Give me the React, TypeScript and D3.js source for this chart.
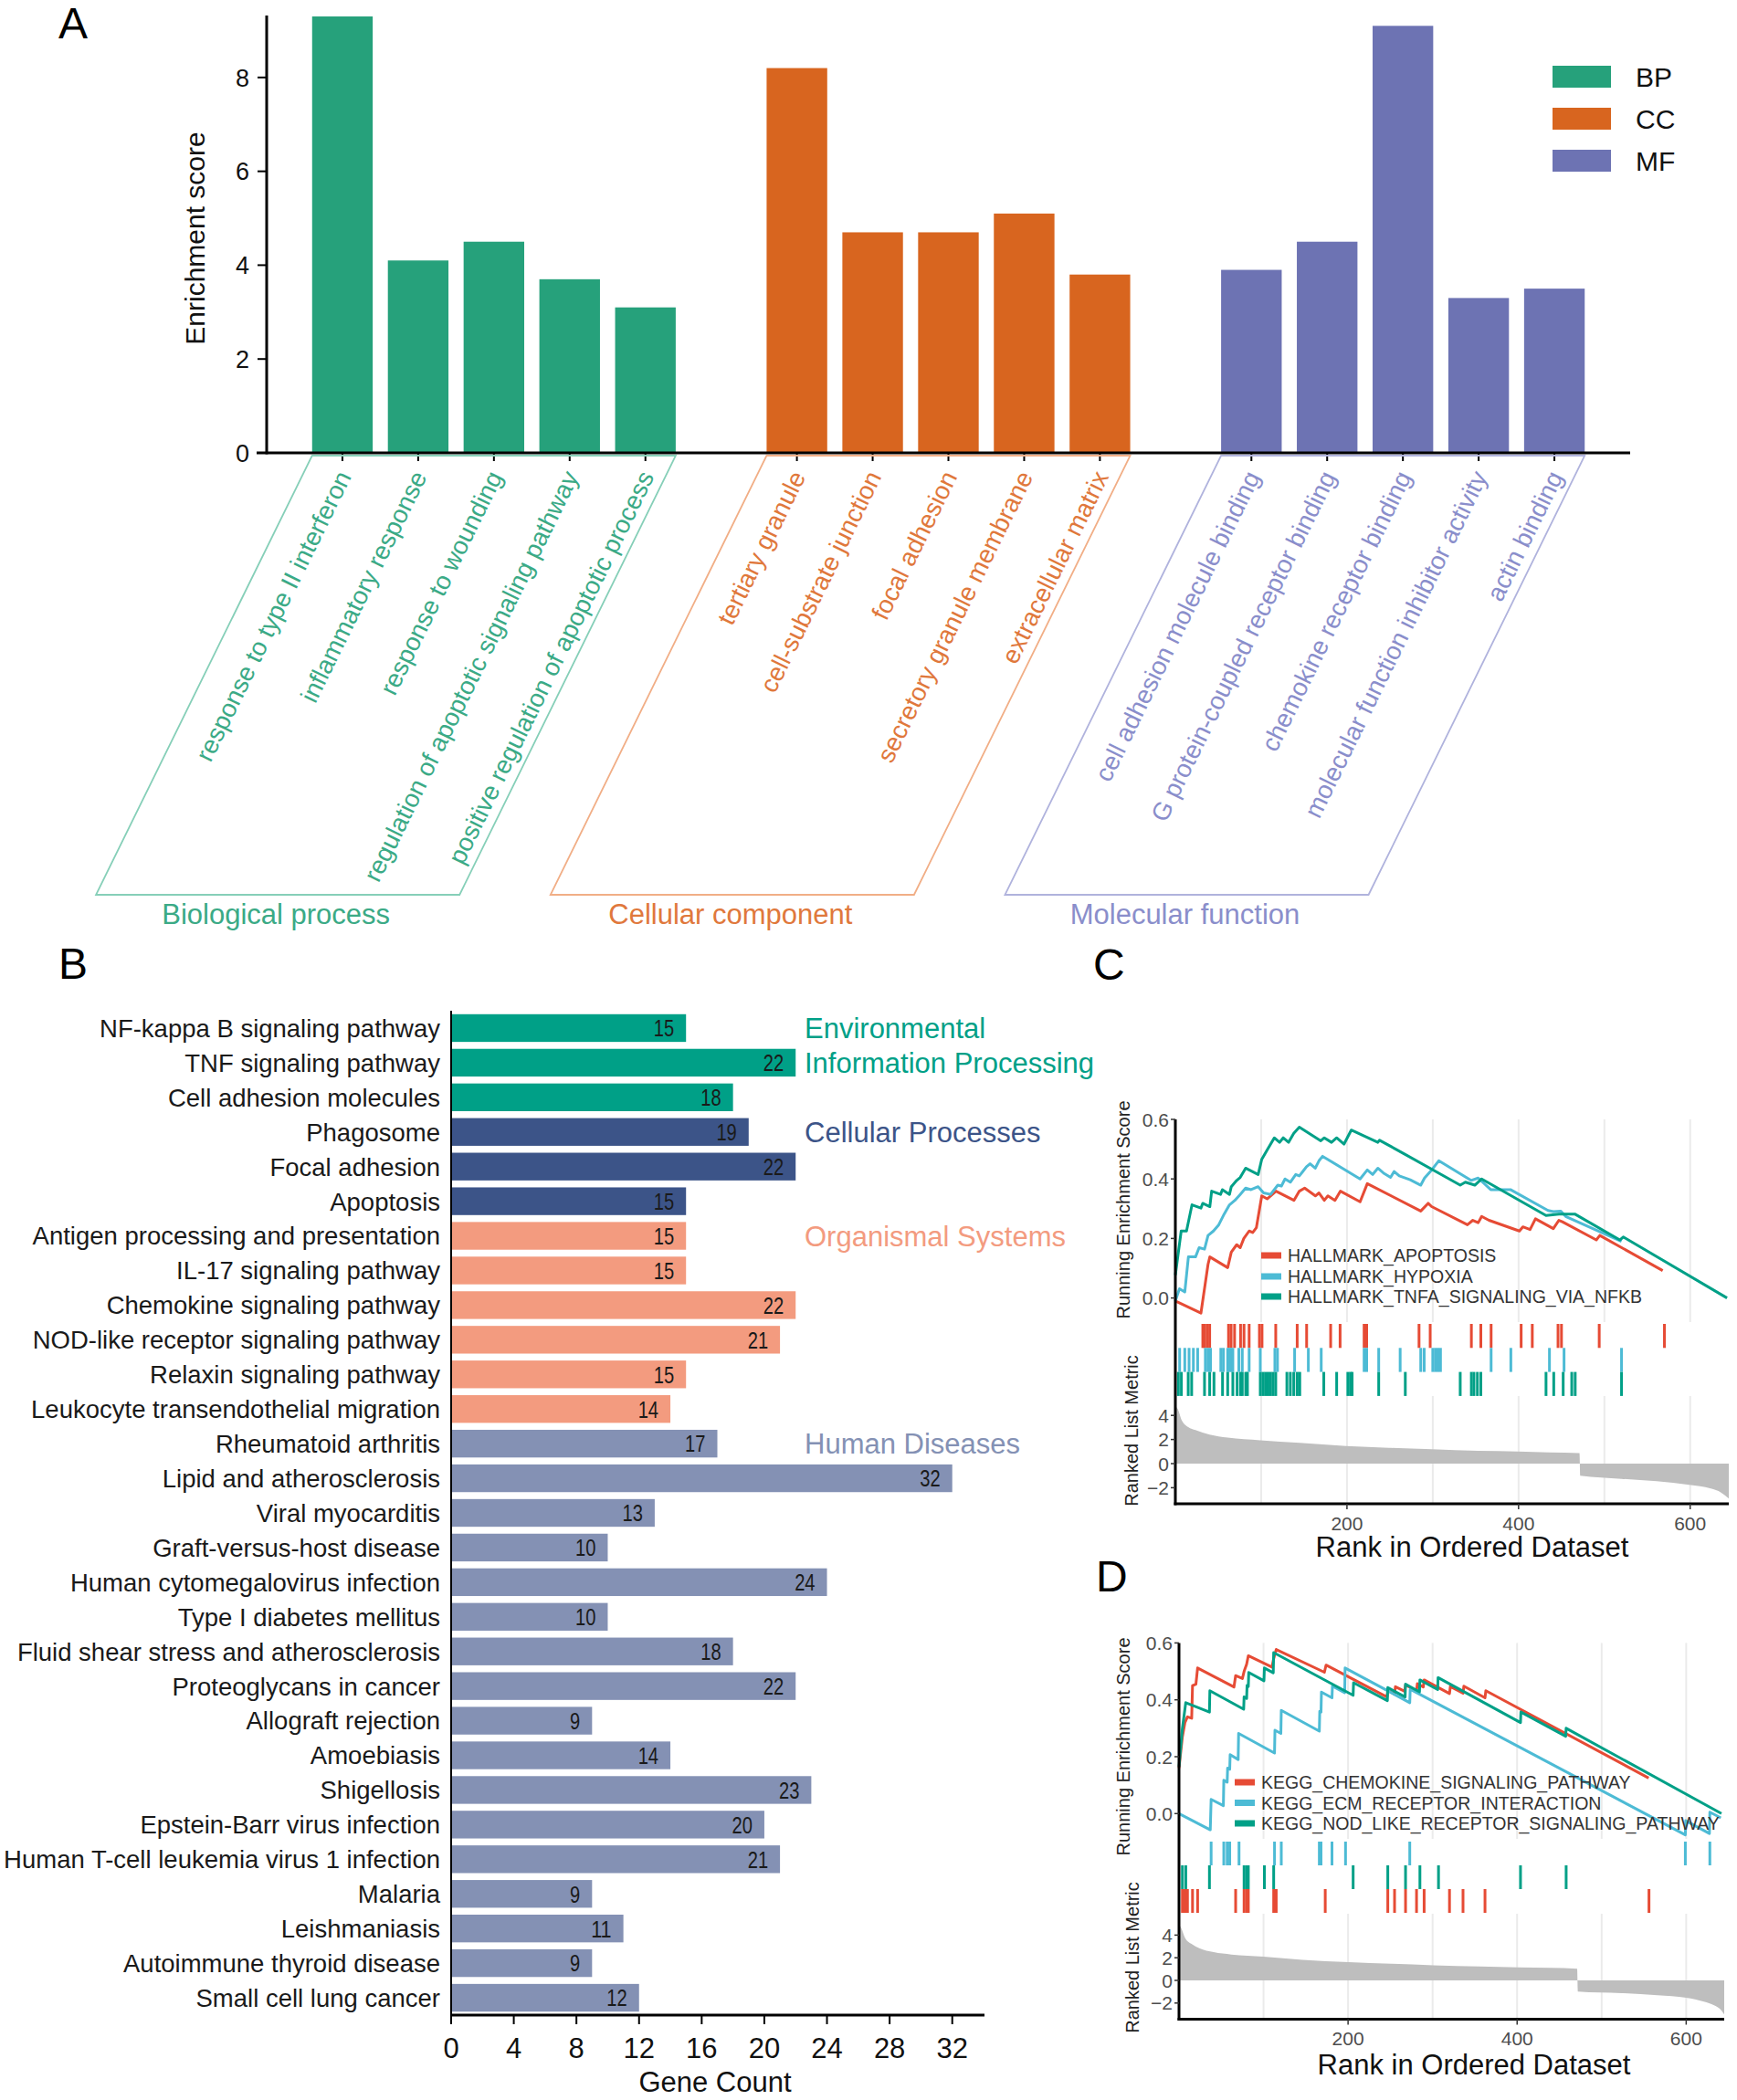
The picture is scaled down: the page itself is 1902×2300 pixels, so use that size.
import React from "react";
import * as d3 from "d3";

const FONT = '"Liberation Sans", Arial, Helvetica, sans-serif';

// ---------------- Panel A data ----------------
const goTerms = [
  "response to type II interferon",
  "inflammatory response",
  "response to wounding",
  "regulation of apoptotic signaling pathway",
  "positive regulation of apoptotic process",
  "tertiary granule",
  "cell-substrate junction",
  "focal adhesion",
  "secretory granule membrane",
  "extracellular matrix",
  "cell adhesion molecule binding",
  "G protein-coupled receptor binding",
  "chemokine receptor binding",
  "molecular function inhibitor activity",
  "actin binding",
];
const goOntology = ["BP", "BP", "BP", "BP", "BP", "CC", "CC", "CC", "CC", "CC", "MF", "MF", "MF", "MF", "MF"];
const goScores = [9.3, 4.1, 4.5, 3.7, 3.1, 8.2, 4.7, 4.7, 5.1, 3.8, 3.9, 4.5, 9.1, 3.3, 3.5];
const ontologyKeys = ["BP", "CC", "MF"];
const ontologyTitles = ["Biological process", "Cellular component", "Molecular function"];
const ontologyColors = ["#26A17B", "#D8651F", "#6D73B3"];
const ontologyTextColors = ["#3BAA86", "#E0783C", "#8A8ECB"];
const ontologyFrameColors = ["#86CFB8", "#F1AE86", "#B0B3DD"];
const scoreTicks = [0, 2, 4, 6, 8];

// ---------------- Panel B data ----------------
const keggPathways = [
  "NF-kappa B signaling pathway",
  "TNF signaling pathway",
  "Cell adhesion molecules",
  "Phagosome",
  "Focal adhesion",
  "Apoptosis",
  "Antigen processing and presentation",
  "IL-17 signaling pathway",
  "Chemokine signaling pathway",
  "NOD-like receptor signaling pathway",
  "Relaxin signaling pathway",
  "Leukocyte transendothelial migration",
  "Rheumatoid arthritis",
  "Lipid and atherosclerosis",
  "Viral myocarditis",
  "Graft-versus-host disease",
  "Human cytomegalovirus infection",
  "Type I diabetes mellitus",
  "Fluid shear stress and atherosclerosis",
  "Proteoglycans in cancer",
  "Allograft rejection",
  "Amoebiasis",
  "Shigellosis",
  "Epstein-Barr virus infection",
  "Human T-cell leukemia virus 1 infection",
  "Malaria",
  "Leishmaniasis",
  "Autoimmune thyroid disease",
  "Small cell lung cancer",
];
const keggCounts = [15, 22, 18, 19, 22, 15, 15, 15, 22, 21, 15, 14, 17, 32, 13, 10, 24, 10, 18, 22, 9, 14, 23, 20, 21, 9, 11, 9, 12];
const keggClass = [0, 0, 0, 1, 1, 1, 2, 2, 2, 2, 2, 2, 3, 3, 3, 3, 3, 3, 3, 3, 3, 3, 3, 3, 3, 3, 3, 3, 3];
const keggClassLabelLines = [["Environmental", "Information Processing"], ["Cellular Processes"], ["Organismal Systems"], ["Human Diseases"]];
const keggClassColors = ["#00A087", "#3C5488", "#F39B7F", "#8491B4"];
const countTicks = [0, 4, 8, 12, 16, 20, 24, 28, 32];

// ---------------- Panel C / D data ----------------
const gseaColors = ["#E64B35", "#4DBBD5", "#00A087"];
const rankTicks = [200, 400, 600];
const rankGrid = [100, 200, 300, 400, 500, 600];
const esTicks = [0, 0.2, 0.4, 0.6];
const metricTicks = [-2, 0, 2, 4];

const cSetNames = ["HALLMARK_APOPTOSIS", "HALLMARK_HYPOXIA", "HALLMARK_TNFA_SIGNALING_VIA_NFKB"];
const cApoptosisES = [[0, -0.01], [29.8, -0.051], [38.1, 0.113], [40.2, 0.138], [61, 0.102], [65.2, 0.154], [71.5, 0.179], [75.6, 0.169], [79.8, 0.2], [86, 0.225], [90.2, 0.22], [94.4, 0.236], [100.7, 0.343], [107, 0.333], [117.3, 0.359], [138.2, 0.328], [144.5, 0.359], [150.7, 0.369], [163.2, 0.343], [167.4, 0.353], [173.6, 0.328], [177.8, 0.343], [186, 0.328], [192.4, 0.359], [215.3, 0.323], [223.7, 0.384], [286, 0.292], [294.6, 0.318], [298.7, 0.307], [340.4, 0.246], [346.7, 0.261], [353, 0.253], [357, 0.274], [365.5, 0.261], [401, 0.225], [405, 0.239], [413.4, 0.23], [419.7, 0.266], [440.5, 0.233], [447, 0.261], [451, 0.256], [490.6, 0.195], [494.7, 0.21], [568, 0.092]];
const cHypoxiaES = [[0, -0.01], [4.8, 0.031], [11, 0.02], [15.2, 0.138], [23.5, 0.138], [27.7, 0.169], [34, 0.164], [38.1, 0.21], [44.4, 0.225], [50.6, 0.246], [56.9, 0.282], [63.1, 0.313], [69.4, 0.328], [75.6, 0.348], [81.9, 0.369], [88.2, 0.364], [96.5, 0.374], [102.8, 0.353], [111, 0.348], [119.4, 0.379], [123.6, 0.376], [127.8, 0.4], [134, 0.389], [140.3, 0.415], [144.5, 0.41], [148.6, 0.425], [152.8, 0.441], [157, 0.451], [163, 0.436], [167.4, 0.461], [171.6, 0.476], [215.3, 0.4], [223.7, 0.43], [230, 0.415], [236, 0.436], [242.5, 0.42], [250.8, 0.405], [255, 0.425], [261, 0.41], [273.7, 0.397], [286, 0.379], [290.4, 0.403], [298.7, 0.43], [307, 0.461], [344.6, 0.395], [353, 0.403], [367.5, 0.364], [390.5, 0.364], [434.3, 0.294], [440.5, 0.29], [449, 0.292], [455, 0.274], [520, 0.19]];
const cTnfaES = [[0, 0.077], [6.8, 0.225], [13, 0.225], [19.4, 0.313], [29.8, 0.302], [31.9, 0.318], [40.2, 0.307], [42.3, 0.359], [52.7, 0.348], [54.8, 0.364], [63.1, 0.348], [65.2, 0.374], [71.5, 0.395], [75.6, 0.405], [81.9, 0.436], [96.5, 0.415], [100.7, 0.466], [107, 0.497], [115.3, 0.538], [121.5, 0.523], [125.7, 0.538], [132, 0.523], [138, 0.553], [144.5, 0.574], [169.5, 0.528], [173.6, 0.538], [182, 0.523], [188, 0.538], [196.6, 0.517], [205, 0.564], [236, 0.523], [238, 0.53], [265, 0.487], [332, 0.379], [338, 0.389], [349, 0.379], [357, 0.4], [432, 0.277], [447, 0.282], [465.5, 0.282], [518, 0.195], [522, 0.205], [643, 0.0]];
const cApoptosisHits = [32, 34, 37, 40, 62, 65, 69, 76, 80, 86, 98, 101, 117, 142, 153, 181, 192, 220, 223, 284, 297, 345, 356, 368, 403, 416, 446, 450, 494, 570];
const cHypoxiaHits = [5, 11, 16, 21, 26, 35, 38, 41, 53, 56, 61, 63, 65, 67, 74, 78, 86, 99, 116, 119, 139, 155, 170, 220, 223, 237, 262, 286, 290, 300, 303, 306, 309, 368, 391, 436, 453, 520];
const cTnfaHits = [3.5, 7, 15, 19, 34, 40, 45, 55, 61, 67, 72, 76, 78, 82, 84, 99, 102, 105, 108, 111, 114, 117, 130, 134, 138, 142, 145, 173, 188, 201, 204, 206, 237, 268, 332, 345, 348, 352, 356, 432, 441, 452, 462, 466, 520];
const cMetric = [[0, 4.8], [3, 4.5], [7, 3.66], [15, 3.03], [23.5, 2.78], [40, 2.4], [61, 2.15], [99, 1.94], [145, 1.72], [199, 1.46], [249, 1.31], [299, 1.19], [353, 1.06], [399, 1.01], [436, 0.93], [471, 0.88], [472, -1.01], [520, -1.26], [561, -1.46], [599, -1.77], [624, -2.07], [636, -2.4], [645, -2.9]];

const dSetNames = ["KEGG_CHEMOKINE_SIGNALING_PATHWAY", "KEGG_ECM_RECEPTOR_INTERACTION", "KEGG_NOD_LIKE_RECEPTOR_SIGNALING_PATHWAY"];
const dChemokineES = [[0, 0.16], [4, 0.27], [7, 0.32], [10, 0.34], [15, 0.335], [16, 0.45], [20, 0.455], [22, 0.512], [65, 0.445], [67, 0.485], [75, 0.475], [77, 0.5], [80, 0.525], [82, 0.555], [110, 0.515], [112, 0.545], [115, 0.577], [172, 0.497], [174, 0.522], [246, 0.41], [247, 0.433], [255, 0.42], [256, 0.446], [267, 0.43], [268, 0.452], [281, 0.432], [282, 0.457], [289, 0.445], [290, 0.47], [320, 0.422], [321, 0.447], [336, 0.423], [337, 0.448], [362, 0.407], [363, 0.432], [555.6, 0.125]];
const dEcmES = [[0, 0.0], [37, -0.057], [38, 0.05], [52.5, 0.028], [53, 0.117], [57, 0.11], [57.5, 0.16], [60, 0.156], [60.5, 0.207], [70, 0.19], [70.5, 0.282], [113, 0.213], [113.5, 0.293], [120.5, 0.282], [121, 0.363], [166, 0.29], [166.5, 0.36], [168, 0.357], [168.5, 0.427], [181, 0.407], [181.5, 0.448], [196, 0.425], [196.5, 0.512], [273, 0.39], [273.5, 0.437], [599, -0.075], [599.5, -0.025], [627.5, -0.07], [628, 0.005], [641, -0.015]];
const dNodES = [[0, 0.165], [4, 0.3], [8, 0.39], [36, 0.357], [36.5, 0.432], [76.5, 0.367], [77, 0.41], [80, 0.405], [80.5, 0.45], [82, 0.447], [82.5, 0.496], [100.5, 0.467], [101, 0.512], [111.5, 0.495], [112, 0.566], [206, 0.416], [206.5, 0.46], [246.5, 0.397], [247, 0.443], [267.5, 0.41], [268, 0.455], [284.5, 0.428], [285, 0.47], [306, 0.436], [306.5, 0.478], [404, 0.32], [404.5, 0.357], [457.5, 0.272], [458, 0.3], [641.7, 0.0]];
const dChemokineHits = [4, 7, 10, 16, 22, 67, 77, 80, 82, 112, 115, 173, 247, 255, 268, 281, 290, 320, 336, 362, 556];
const dEcmHits = [38, 53, 57, 60, 71, 113, 121, 166, 168, 181, 197, 273, 599, 628];
const dNodHits = [4, 8, 36, 77, 80, 82, 101, 112, 206, 247, 268, 285, 307, 404, 458];
const dMetric = [[0, 4.8], [1.2, 4.77], [7.5, 3.7], [16, 3.16], [24, 2.84], [41, 2.49], [62, 2.28], [100, 2.09], [146, 1.82], [201, 1.61], [251, 1.47], [301, 1.34], [356, 1.23], [402, 1.15], [440, 1.1], [471, 1.02], [472, -0.99], [524, -1.13], [566, -1.31], [600, -1.53], [621, -1.88], [633, -2.2], [642, -2.68], [645, -3.0]];

// ---------------- Panel A ----------------
function PanelA() {
  const slots: string[] = [];
  ontologyKeys.forEach((k, gi) => {
    if (gi > 0) slots.push(`__gap${gi}`);
    goTerms.forEach((t, i) => {
      if (goOntology[i] === k) slots.push(t);
    });
  });
  const x = d3.scaleBand<string>().domain(slots).range([292, 1785]).paddingInner(0.2).paddingOuter(0.6);
  const y = d3.scaleLinear().domain([0, 9.32]).range([496, 17]);
  const bw = x.bandwidth();
  const ANGLE = 63.8;
  const frameTop = 499;
  const frameBottom = 980;
  const shift = (frameBottom - frameTop) / Math.tan((ANGLE * Math.PI) / 180);
  const gIdx = (k: string) => ontologyKeys.indexOf(k);

  return (
    <g>
      <text x={64} y={42} fontSize={48}>A</text>
      {goTerms.map((t, i) => (
        <rect key={t} x={x(t)} y={y(goScores[i])} width={bw} height={y(0) - y(goScores[i])} fill={ontologyColors[gIdx(goOntology[i])]} />
      ))}
      <line x1={292} x2={292} y1={y(9.32)} y2={y(0) + 1.5} stroke="#000" strokeWidth={3} />
      <line x1={281} x2={1785} y1={y(0)} y2={y(0)} stroke="#000" strokeWidth={3} />
      {scoreTicks.map((t) => (
        <g key={t}>
          <line x1={282} x2={292} y1={y(t)} y2={y(t)} stroke="#000" strokeWidth={2} />
          <text x={273} y={y(t)} dy="0.36em" textAnchor="end" fontSize={27} fill="#111">{t}</text>
        </g>
      ))}
      {goTerms.map((t) => (
        <line key={t} x1={(x(t) as number) + bw / 2} x2={(x(t) as number) + bw / 2} y1={y(0)} y2={y(0) + 9} stroke="#000" strokeWidth={2} />
      ))}
      <text transform={`translate(224,261) rotate(-90)`} textAnchor="middle" fontSize={30} fill="#111">Enrichment score</text>
      {goTerms.map((t, i) => (
        <text
          key={t}
          transform={`translate(${(x(t) as number) + bw / 2 - 12},511) rotate(${-ANGLE})`}
          textAnchor="end"
          dy="0.9em"
          fontSize={27.5}
          fill={ontologyTextColors[gIdx(goOntology[i])]}
        >
          {t}
        </text>
      ))}
      {ontologyKeys.map((k, gi) => {
        const terms = goTerms.filter((_, i) => goOntology[i] === k);
        const x0 = x(terms[0]) as number;
        const x1 = (x(terms[terms.length - 1]) as number) + bw;
        const pts = [
          [x0, frameTop],
          [x1, frameTop],
          [x1 - shift, frameBottom],
          [x0 - shift, frameBottom],
        ];
        return (
          <g key={k}>
            <polygon points={pts.map((p) => p.join(",")).join(" ")} fill="none" stroke={ontologyFrameColors[gi]} strokeWidth={1.8} />
            <text x={(x0 + x1) / 2 - shift - 2} y={1012} textAnchor="middle" fontSize={31} fill={ontologyTextColors[gi]}>
              {ontologyTitles[gi]}
            </text>
          </g>
        );
      })}
      {ontologyKeys.map((k, gi) => (
        <g key={k}>
          <rect x={1700} y={72 + gi * 46} width={64} height={24} fill={ontologyColors[gi]} />
          <text x={1791} y={84 + gi * 46} dy="0.36em" fontSize={30} fill="#111">{k}</text>
        </g>
      ))}
    </g>
  );
}

// ---------------- Panel B ----------------
function PanelB() {
  const y = d3.scaleBand<string>().domain(keggPathways).range([1107, 2207]).paddingInner(0.2).paddingOuter(0.1);
  const x = d3.scaleLinear().domain([0, 34]).range([494, 1077]);
  const bh = y.bandwidth();
  return (
    <g>
      <text x={64} y={1072} fontSize={48}>B</text>
      {keggPathways.map((p, i) => {
        const cy = (y(p) as number) + bh / 2;
        const v = keggCounts[i];
        return (
          <g key={p}>
            <rect x={x(0)} y={y(p)} width={x(v) - x(0)} height={bh} fill={keggClassColors[keggClass[i]]} />
            <text x={482} y={cy} dy="0.36em" textAnchor="end" fontSize={27.5} fill="#1a1a1a">{p}</text>
            <text
              x={x(v) - 13}
              y={cy}
              dy="0.36em"
              textAnchor="end"
              fontSize={26}
              fill="#1a1a1a"
              textLength={String(v).length * 11.2}
              lengthAdjust="spacingAndGlyphs"
            >
              {v}
            </text>
          </g>
        );
      })}
      <line x1={494} x2={494} y1={1107} y2={2208} stroke="#000" strokeWidth={2} />
      <line x1={493} x2={1078} y1={2207} y2={2207} stroke="#000" strokeWidth={3} />
      {countTicks.map((t) => (
        <g key={t}>
          <line x1={x(t)} x2={x(t)} y1={2207} y2={2217} stroke="#000" strokeWidth={2} />
          <text x={x(t)} y={2254} textAnchor="middle" fontSize={31} fill="#111">{t}</text>
        </g>
      ))}
      <text x={783} y={2291} textAnchor="middle" fontSize={31} fill="#111">Gene Count</text>
      {keggClassLabelLines.map((lines, ci) => {
        const first = keggPathways[keggClass.indexOf(ci)];
        const cy0 = (y(first) as number) + bh / 2;
        return lines.map((ln, li) => (
          <text key={ln} x={881} y={cy0 + li * y.step()} dy="0.36em" fontSize={31} fill={keggClassColors[ci]}>
            {ln}
          </text>
        ));
      })}
    </g>
  );
}

// ---------------- GSEA panels ----------------
type Cfg = {
  label: string; labelX: number; labelY: number;
  x0: number; x1: number; esTop: number; es0: number; esBottom: number;
  rugTop: number; rugH: number; rankTop: number; rank0: number; rankUnit: number; bottom: number;
  legendX: number; legendY: number[]; esTitleX: number; esTitleY: number; rankTitleX: number; rankTitleY: number;
  xTitleX: number; xTitleY: number; tickLabelY: number;
};

function GseaPanel({ cfg, names, curves, hits, metric, rugOrder }: { cfg: Cfg; names: string[]; curves: number[][][]; hits: number[][]; metric: number[][]; rugOrder: number[] }) {
  const x = d3.scaleLinear().domain([0, 645]).range([cfg.x0, cfg.x1]);
  const yES = d3.scaleLinear().domain([0, 0.6]).range([cfg.es0, cfg.esTop]);
  const yM = d3.scaleLinear().domain([0, 4]).range([cfg.rank0, cfg.rank0 - 4 * cfg.rankUnit]);
  const line = d3.line<number[]>().x((d) => x(d[0])).y((d) => yES(d[1]));
  const area = d3.area<number[]>().x((d) => x(d[0])).y0(yM(0)).y1((d) => yM(d[1])).curve(d3.curveMonotoneX);
  return (
    <g>
      <text x={cfg.labelX} y={cfg.labelY} fontSize={48}>{cfg.label}</text>
      {rankGrid.map((r) => (
        <g key={r}>
          <line x1={x(r)} x2={x(r)} y1={cfg.esTop} y2={cfg.esBottom} stroke="#EBEBEB" strokeWidth={2} />
          <line x1={x(r)} x2={x(r)} y1={cfg.rankTop} y2={cfg.bottom} stroke="#EBEBEB" strokeWidth={2} />
        </g>
      ))}
      <path d={area(metric) || ""} fill="#BEBEBE" />
      {rugOrder.map((si, row) => (
        <g key={si}>
          {hits[si].map((h, k) => (
            <line key={k} x1={x(h)} x2={x(h)} y1={cfg.rugTop + row * cfg.rugH} y2={cfg.rugTop + (row + 1) * cfg.rugH} stroke={gseaColors[si]} strokeWidth={3} />
          ))}
        </g>
      ))}
      {curves.map((c, si) => (
        <path key={si} d={line(c) || ""} fill="none" stroke={gseaColors[si]} strokeWidth={3} strokeLinejoin="round" />
      ))}
      <line x1={cfg.x0} x2={cfg.x0} y1={cfg.esTop} y2={cfg.bottom + 1.5} stroke="#000" strokeWidth={3} />
      <line x1={cfg.x0 - 1.5} x2={cfg.x1} y1={cfg.bottom} y2={cfg.bottom} stroke="#000" strokeWidth={3} />
      {esTicks.map((t) => (
        <g key={t}>
          <line x1={cfg.x0 - 5} x2={cfg.x0} y1={yES(t)} y2={yES(t)} stroke="#333" strokeWidth={1.5} />
          <text x={cfg.x0 - 7} y={yES(t)} dy="0.36em" textAnchor="end" fontSize={21} fill="#4D4D4D">{t.toFixed(1)}</text>
        </g>
      ))}
      {metricTicks.map((t) => (
        <g key={t}>
          <line x1={cfg.x0 - 5} x2={cfg.x0} y1={yM(t)} y2={yM(t)} stroke="#333" strokeWidth={1.5} />
          <text x={cfg.x0 - 7} y={yM(t)} dy="0.36em" textAnchor="end" fontSize={21} fill="#4D4D4D">{t < 0 ? `\u2212${-t}` : t}</text>
        </g>
      ))}
      {rankTicks.map((t) => (
        <g key={t}>
          <line x1={x(t)} x2={x(t)} y1={cfg.bottom} y2={cfg.bottom + 6} stroke="#333" strokeWidth={1.5} />
          <text x={x(t)} y={cfg.tickLabelY} dy="0.36em" textAnchor="middle" fontSize={21} fill="#4D4D4D">{t}</text>
        </g>
      ))}
      <text transform={`translate(${cfg.esTitleX},${cfg.esTitleY}) rotate(-90)`} textAnchor="middle" fontSize={20} fill="#222">Running Enrichment Score</text>
      <text transform={`translate(${cfg.rankTitleX},${cfg.rankTitleY}) rotate(-90)`} textAnchor="middle" fontSize={20} fill="#222">Ranked List Metric</text>
      <text x={cfg.xTitleX} y={cfg.xTitleY} textAnchor="middle" fontSize={31} fill="#111">Rank in Ordered Dataset</text>
      {names.map((n, si) => (
        <g key={n}>
          <rect x={cfg.legendX} y={cfg.legendY[si] - 3.5} width={22} height={7} fill={gseaColors[si]} />
          <text x={cfg.legendX + 29} y={cfg.legendY[si]} dy="0.36em" fontSize={19.5} fill="#333">{n}</text>
        </g>
      ))}
    </g>
  );
}

const cfgC: Cfg = {
  label: "C", labelX: 1197, labelY: 1073,
  x0: 1287, x1: 1893, esTop: 1226, es0: 1421.6, esBottom: 1448,
  rugTop: 1450, rugH: 26.3, rankTop: 1529, rank0: 1603, rankUnit: 13.2, bottom: 1647,
  legendX: 1381, legendY: [1375, 1398, 1420], esTitleX: 1237, esTitleY: 1325, rankTitleX: 1246, rankTitleY: 1567,
  xTitleX: 1612, xTitleY: 1705, tickLabelY: 1668,
};
const cfgD: Cfg = {
  label: "D", labelX: 1200, labelY: 1743,
  x0: 1291, x1: 1888, esTop: 1799.4, es0: 1986.3, esBottom: 2014,
  rugTop: 2017, rugH: 26, rankTop: 2096, rank0: 2169, rankUnit: 12.4, bottom: 2211.5,
  legendX: 1352, legendY: [1952, 1974.5, 1997], esTitleX: 1237, esTitleY: 1913, rankTitleX: 1247, rankTitleY: 2144,
  xTitleX: 1614, xTitleY: 2272, tickLabelY: 2232,
};

export default function App() {
  return (
    <svg
      width={1902}
      height={2300}
      viewBox="0 0 1902 2300"
      style={{ position: "absolute", left: 0, top: 0, display: "block", background: "#fff" }}
      fontFamily={FONT}
    >
      <rect x={0} y={0} width={1902} height={2300} fill="#fff" />
      <PanelA />
      <PanelB />
      <GseaPanel
        cfg={cfgC}
        names={cSetNames}
        curves={[cApoptosisES, cHypoxiaES, cTnfaES]}
        hits={[cApoptosisHits, cHypoxiaHits, cTnfaHits]}
        metric={cMetric}
        rugOrder={[0, 1, 2]}
      />
      <GseaPanel
        cfg={cfgD}
        names={dSetNames}
        curves={[dChemokineES, dEcmES, dNodES]}
        hits={[dChemokineHits, dEcmHits, dNodHits]}
        metric={dMetric}
        rugOrder={[1, 2, 0]}
      />
    </svg>
  );
}
